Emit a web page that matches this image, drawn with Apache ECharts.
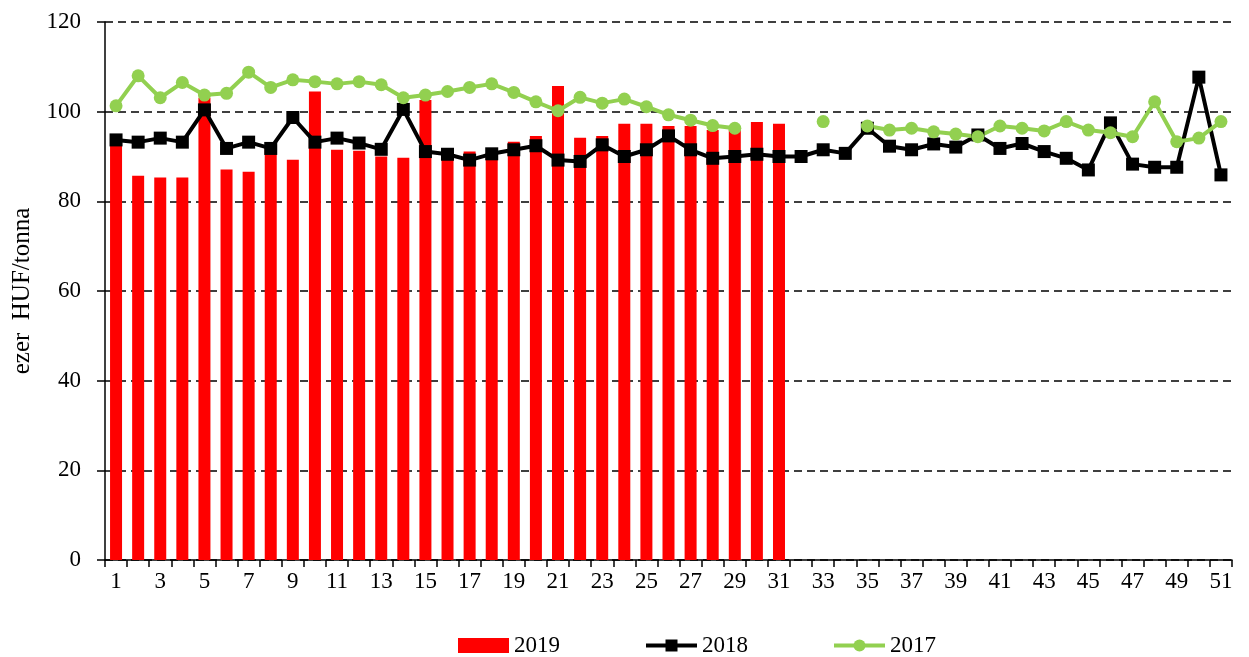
<!DOCTYPE html>
<html>
<head>
<meta charset="utf-8">
<script src="https://cdn.jsdelivr.net/npm/echarts@6/dist/echarts.min.js"></script>
<style>
  html, body { margin: 0; padding: 0; background: #fff; }
  #chart { width: 1249px; height: 657px; }
</style>
</head>
<body>
<div id="chart"></div>
<script>
  // heti adatok, 1-51. hét
  var weeks = [];
  for (var w = 1; w <= 51; w++) weeks.push(String(w));

  var data2019 = [93.5, 85.7, 85.3, 85.3, 103.1, 87.1, 86.6, 91.9, 89.3, 104.5,
                  91.5, 91.3, 90.0, 89.7, 102.6, 90.5, 91.1, 90.8, 93.3, 94.6,
                  105.7, 94.2, 94.6, 97.3, 97.3, 96.8, 96.8, 95.9, 96.0, 97.7,
                  97.3];

  var data2018 = [93.7, 93.2, 94.1, 93.2, 100.4, 91.8, 93.2, 91.8, 98.7, 93.2,
                  94.1, 93.0, 91.6, 100.5, 91.1, 90.5, 89.2, 90.6, 91.5, 92.4,
                  89.2, 88.9, 92.6, 90.0, 91.5, 94.6, 91.5, 89.6, 90.0, 90.5,
                  90.0, 90.0, 91.5, 90.7, 96.3, 92.3, 91.5, 92.8, 92.1, 94.8,
                  91.8, 92.9, 91.1, 89.6, 87.0, 97.5, 88.3, 87.6, 87.6, 107.7,
                  85.9];

  var data2017 = [101.3, 108.0, 103.1, 106.5, 103.7, 104.1, 108.8, 105.4, 107.1, 106.7,
                  106.2, 106.7, 106.0, 103.1, 103.7, 104.5, 105.4, 106.2, 104.3, 102.2,
                  100.2, 103.2, 101.9, 102.8, 101.1, 99.3, 98.1, 96.9, 96.3, null,
                  null, null, 97.8, null, 96.8, 95.9, 96.3, 95.5, 95.0, 94.4,
                  96.8, 96.3, 95.7, 97.8, 95.9, 95.3, 94.4, 102.2, 93.3, 94.1,
                  97.8];

  var chart = echarts.init(document.getElementById('chart'));
  var font = '"Liberation Serif", "Times New Roman", serif';

  var option = {
    backgroundColor: '#ffffff',
    animation: false,
    textStyle: { fontFamily: font },
    grid: { left: 105, right: 17, top: 22, bottom: 97, containLabel: false, outerBoundsMode: 'none' },
    legend: {
      top: 634,
      left: 458,
      padding: 0,
      itemWidth: 51,
      itemHeight: 15,
      itemGap: 84,
      textStyle: { fontFamily: font, fontSize: 23, color: '#000' },
      lineStyle: { width: 4 },
      data: [
        { name: '2019', icon: 'rect' },
        { name: '2018' },
        { name: '2017' }
      ]
    },
    xAxis: {
      type: 'category',
      data: weeks,
      boundaryGap: true,
      axisLine: { lineStyle: { color: '#000', width: 1.5 } },
      axisTick: { show: true, interval: 0, length: 7, lineStyle: { color: '#000', width: 1.5 } },
      axisLabel: { interval: 1, margin: 10, fontFamily: font, fontSize: 23, color: '#000' },
      splitLine: { show: false }
    },
    yAxis: {
      type: 'value',
      min: 0,
      max: 120,
      interval: 20,
      name: 'ezer  HUF/tonna',
      nameLocation: 'middle',
      nameGap: 70,
      nameTextStyle: { fontFamily: font, fontSize: 25, color: '#000' },
      axisLine: { show: true, lineStyle: { color: '#000', width: 1.5 } },
      axisTick: { show: true, length: 8, lineStyle: { color: '#000', width: 1.5 } },
      axisLabel: { margin: 24, fontFamily: font, fontSize: 23, color: '#000' },
      splitLine: { show: true, lineStyle: { color: '#000', type: [8, 5], width: 1.5 } }
    },
    series: [
      {
        name: '2019',
        type: 'bar',
        data: data2019,
        barWidth: 12,
        itemStyle: { color: '#ff0000' }
      },
      {
        name: '2018',
        type: 'line',
        data: data2018,
        symbol: 'rect',
        symbolSize: 13,
        showAllSymbol: true,
        lineStyle: { color: '#000', width: 4 },
        itemStyle: { color: '#000' }
      },
      {
        name: '2017',
        type: 'line',
        data: data2017,
        symbol: 'circle',
        symbolSize: 13,
        showAllSymbol: true,
        connectNulls: false,
        lineStyle: { color: '#92d050', width: 4 },
        itemStyle: { color: '#92d050' }
      }
    ]
  };
  chart.setOption(option);
</script>
</body>
</html>
